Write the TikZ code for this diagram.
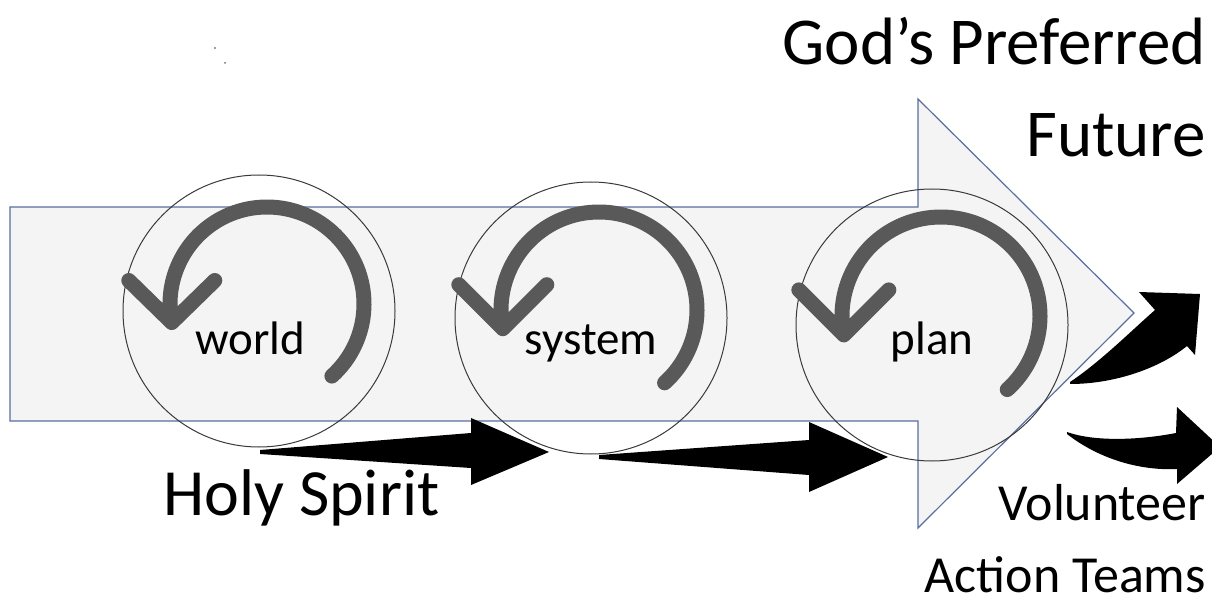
\documentclass[tikz,border=0pt]{standalone}
\usepackage{fontspec}
\setmainfont{Carlito}
\usetikzlibrary{calc}
\definecolor{shaftfill}{HTML}{F4F4F4}
\definecolor{shaftline}{HTML}{5A6EA0}
\definecolor{ringline}{HTML}{3A3A3A}
\definecolor{cyclegray}{HTML}{595959}
\begin{document}
\begin{tikzpicture}[x=1pt,y=-1pt,
  shaft/.style={fill=shaftfill,draw=shaftline,line width=1.2pt,line join=miter},
  ring/.style={circle,draw=ringline,line width=1pt,minimum size=272pt,inner sep=0pt},
  cyclearc/.style={draw=cyclegray,line width=15pt,line cap=round,line join=round},
  pointer/.style={fill=black},
  stage/.style={font=\fontsize{47}{56}\selectfont,inner sep=0pt,anchor=base},
  headline/.style={font=\fontsize{67}{80}\selectfont,inner sep=0pt},
  spirittext/.style={font=\fontsize{66}{79}\selectfont,inner sep=0pt,anchor=base west},
  teamtext/.style={font=\fontsize{52}{62}\selectfont,inner sep=0pt,anchor=base east}]

\useasboundingbox (0,0) rectangle (1212,601);
\fill[white] (0,0) rectangle (1212,601);

% small specks in the upper left
\fill[black!75] (215,48) circle[radius=0.9];
\fill[black!55] (225,63) circle[radius=1];

% broad block arrow carrying the three stages
\draw[shaft] (10,207) -- (918,207) -- (918,99) -- (1134,313) -- (918,528)
  -- (918,421) -- (10,421) -- cycle;

% tapered arrows along the bottom
\fill[pointer] (260,450) -- (471,433) -- (471,418) -- (549,452) -- (471,485)
  -- (471,468) -- (260,454) -- cycle;
\fill[pointer] (599,455) -- (809,440) -- (809,422) -- (888,457) -- (809,492)
  -- (809,475) -- (599,459) -- cycle;

% curved arrows leaving the tip
\fill[pointer] (1070,382) .. controls (1100,362) and (1130,332) .. (1155,310)
  -- (1139,292) -- (1200,294) -- (1195,355) -- (1187,346)
  .. controls (1160,368) and (1115,384) .. (1070,384) -- cycle;
\fill[pointer] (1067,432) .. controls (1095,442) and (1140,440) .. (1176,433)
  -- (1177,407) -- (1220,447) -- (1177,484) -- (1177,469)
  .. controls (1135,471) and (1095,456) .. (1067,434) -- cycle;

% stage rings with their cycle arrows
\node[ring] (cw) at (259,311) {};
\node[ring] (cs) at (591,318) {};
\node[ring] (cp) at (932,325) {};

\draw[cyclearc] ($(cw.center)+(8,-7)+(48:97)$) arc[start angle=48,end angle=-191,radius=97]
  coordinate (cwv) ++(-43,-42) -- (cwv) -- ++(43,-42);
\draw[cyclearc] ($(cs.center)+(8,-8)+(48:98)$) arc[start angle=48,end angle=-191,radius=98]
  coordinate (csv) ++(-44,-44) -- (csv) -- ++(44,-44);
\draw[cyclearc] ($(cp.center)+(9,-9)+(48:99)$) arc[start angle=48,end angle=-191,radius=99]
  coordinate (cpv) ++(-45,-45) -- (cpv) -- ++(45,-45);

\node[stage] (lw) at (250,355) {world};
\node[stage] (ls) at (591,355) {system};
\node[stage] (lp) at (932,355) {plan};

% captions
\node[headline,anchor=base east] (gpf) at (1206,65) {God’s Preferred};
\node[headline,anchor=base east] (fut) at (1206,157) {Future};
\node[spirittext] (hs) at (163,515) {Holy Spirit};
\node[teamtext] (vol) at (1206,520) {Volunteer};
\node[teamtext] (act) at (1206,592) {Action Teams};
\end{tikzpicture}
\end{document}
